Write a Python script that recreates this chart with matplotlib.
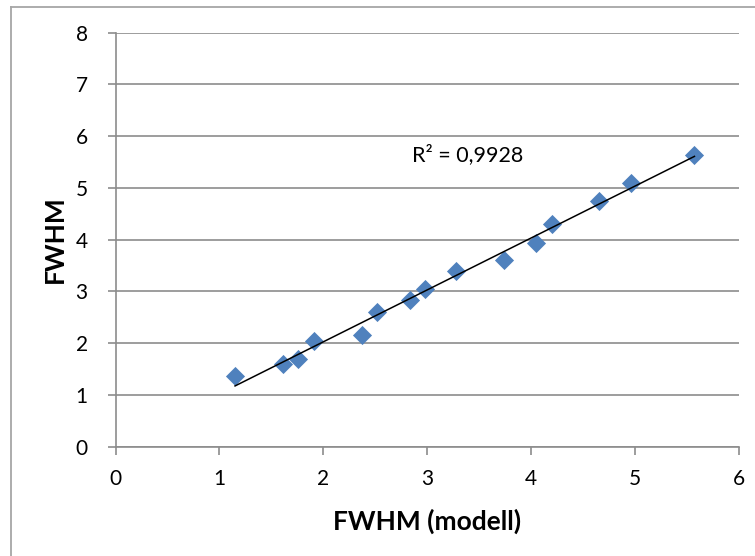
import numpy as np
import matplotlib.pyplot as plt
from matplotlib.lines import Line2D

plt.rcParams['font.family'] = ['Lato', 'DejaVu Sans']

# measured vs. modelled FWHM
fwhm_model = [1.15, 1.61, 1.76, 1.91, 2.37, 2.52, 2.83, 2.98, 3.28,
              3.74, 4.05, 4.20, 4.65, 4.96, 5.57]
fwhm = [1.37, 1.60, 1.70, 2.04, 2.15, 2.60, 2.83, 3.05, 3.39,
        3.60, 3.94, 4.30, 4.75, 5.09, 5.64]
r2_label = 'R² = 0,9928'

x = np.array(fwhm_model)
y = np.array(fwhm)
k, m = np.polyfit(x, y, 1)

fig = plt.figure(figsize=(7.55, 5.56), dpi=100)
ax = fig.add_axes([0.153, 0.1966, 0.826, 0.7446])

ax.scatter(x, y, marker='D', s=95, color='#4F81BD', zorder=3, linewidths=0)
xs = np.array([x.min(), x.max()])
ax.plot(xs, k * xs + m, color='black', lw=1.1, zorder=4)
ax.text(2.85, 5.64, r2_label, fontsize=15.5, va='center', ha='left')

ax.set_xlim(0, 6)
ax.set_ylim(0, 8)
ax.set_xticks(range(0, 7))
ax.set_yticks(range(0, 9))
ax.yaxis.grid(True, color='#8C8C8C', lw=1.2)
ax.set_axisbelow(True)
for s in ['top', 'right']:
    ax.spines[s].set_visible(False)
for s in ['left', 'bottom']:
    ax.spines[s].set_color('#8C8C8C')
    ax.spines[s].set_linewidth(1.2)
ax.tick_params(axis='both', length=6, width=1.2, color='#8C8C8C', labelsize=15, pad=10)
ax.tick_params(axis='y', pad=14)
ax.set_xlabel('FWHM (modell)', fontsize=19, fontweight='bold')
ax.xaxis.label.set_verticalalignment('center')
ax.xaxis.set_label_coords(0.5, -0.18)
fig.text(55 / 755, 1 - 239 / 556, 'FWHM', fontsize=19, fontweight='bold',
         rotation=90, ha='center', va='center')

# chart area border (top and left edges)
fig.add_artist(Line2D([11 / 755, 11 / 755], [0, 1 - 7 / 556], transform=fig.transFigure,
                      color='#A6A6A6', lw=1.3))
fig.add_artist(Line2D([11 / 755, 1], [1 - 7 / 556, 1 - 7 / 556], transform=fig.transFigure,
                      color='#A6A6A6', lw=1.3))

fig.savefig('out.png', dpi=100)
